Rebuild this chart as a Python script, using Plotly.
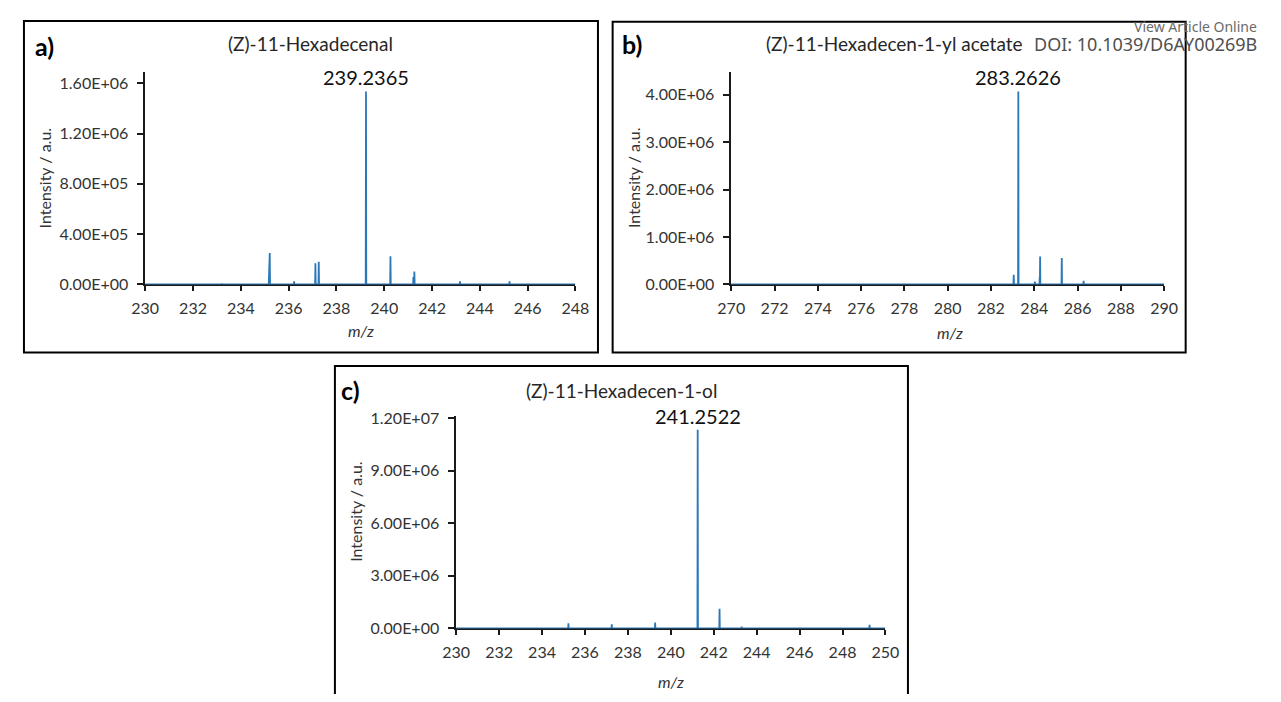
import plotly.graph_objects as go

# page body has an 8px margin; keep the figure inside the 1281x702 window
OFF = 8
W, H = 1281 - 2 * OFF, 702 - 2 * OFF

# ---------------- data ----------------
a_mz = [233.20, 235.18, 235.21, 236.23, 237.12, 237.26, 238.25, 239.2365, 240.26, 241.22, 241.26, 242.26, 243.17, 245.24]
a_int = [8e3, 1.35e5, 2.5e5, 2.6e4, 1.68e5, 1.80e5, 6e3, 1.535e6, 2.25e5, 6.0e4, 1.03e5, 5e3, 2.6e4, 2.5e4]

b_mz = [283.05, 283.2626, 284.03, 284.25, 284.27, 285.27, 286.28]
b_int = [2.05e5, 4.07e6, 6.0e4, 1.5e5, 5.9e5, 5.6e5, 8.0e4]

c_mz = [230.70, 233.27, 235.23, 236.20, 237.25, 239.27, 241.2522, 242.27, 243.30, 247.26, 249.26]
c_int = [3e4, 3e4, 2.9e5, 3e4, 2.4e5, 3.3e5, 1.134e7, 1.12e6, 1.0e5, 3e4, 2.0e5]

a_xticks = list(range(230, 249, 2))
b_xticks = list(range(270, 291, 2))
c_xticks = list(range(230, 251, 2))

a_yticks = [0, 4e5, 8e5, 1.2e6, 1.6e6]
b_yticks = [0, 1e6, 2e6, 3e6, 4e6]
c_yticks = [0, 3e6, 6e6, 9e6, 1.2e7]

a_ytext = ["0.00E+00", "4.00E+05", "8.00E+05", "1.20E+06", "1.60E+06"]
b_ytext = ["0.00E+00", "1.00E+06", "2.00E+06", "3.00E+06", "4.00E+06"]
c_ytext = ["0.00E+00", "3.00E+06", "6.00E+06", "9.00E+06", "1.20E+07"]

titles = ["(Z)-11-Hexadecenal", "(Z)-11-Hexadecen-1-yl acetate", "(Z)-11-Hexadecen-1-ol"]
panel_tags = ["a)", "b)", "c)"]
peak_labels = ["239.2365", "283.2626", "241.2522"]

# ---------------- helpers ----------------
def px_x(p):
    return (p - OFF) / W

def px_y(p):
    return 1 - (p - OFF) / H

def stick(mz, inten, lo, hi, d=0.012):
    xs, ys = [lo], [0]
    for m, v in sorted(zip(mz, inten)):
        xs += [m - d, m, m + d]
        ys += [0, v, 0]
    xs.append(hi)
    ys.append(0)
    return xs, ys

BLUE = "#2b78b9"
TXT = "#333333"
FONT = "Lato"

fig = go.Figure()

panels = [
    dict(mz=a_mz, it=a_int, xt=a_xticks, yt=a_yticks, ytt=a_ytext, xr=[230, 248], yr=[0, 1.693e6],
         dx=[134, 574], dy=[65, 283.3]),
    dict(mz=b_mz, it=b_int, xt=b_xticks, yt=b_yticks, ytt=b_ytext, xr=[270, 290], yr=[0, 4.49e6],
         dx=[733.3, 1176], dy=[65, 283.3]),
    dict(mz=c_mz, it=c_int, xt=c_xticks, yt=c_yticks, ytt=c_ytext, xr=[230, 250], yr=[0, 1.213e7],
         dx=[452, 891], dy=[418, 636]),
]

layout = dict(
    width=W, height=H, margin=dict(l=0, r=0, t=0, b=0),
    paper_bgcolor="white", plot_bgcolor="white", showlegend=False,
    font=dict(family=FONT, size=16, color=TXT),
)

annotations = []
for i, p in enumerate(panels):
    sfx = "" if i == 0 else str(i + 1)
    xs, ys = stick(p["mz"], p["it"], p["xr"][0], p["xr"][1])
    fig.add_trace(go.Scatter(x=xs, y=ys, mode="lines", line=dict(color=BLUE, width=1.8),
                             xaxis="x" + sfx, yaxis="y" + sfx, hoverinfo="skip"))
    layout["xaxis" + sfx] = dict(
        domain=[px_x(p["dx"][0]), px_x(p["dx"][1])], range=p["xr"], anchor="y" + sfx,
        tickvals=p["xt"], ticktext=[str(v) for v in p["xt"]],
        showline=True, linecolor="#1a1a1a", linewidth=1.5, ticks="outside", ticklen=5,
        tickwidth=1.5, tickcolor="#1a1a1a", showgrid=False, zeroline=False,
        tickfont=dict(family=FONT, size=16, color=TXT), layer="below traces",
        fixedrange=True, ticklabelstandoff=4,
    )
    layout["yaxis" + sfx] = dict(
        domain=[px_y(p["dy"][1]), px_y(p["dy"][0])], range=p["yr"], anchor="x" + sfx,
        tickvals=p["yt"], ticktext=p["ytt"],
        showline=True, linecolor="#1a1a1a", linewidth=1.5, ticks="outside", ticklen=6,
        tickwidth=1.5, tickcolor="#1a1a1a", showgrid=False, zeroline=False,
        tickfont=dict(family=FONT, size=16, color=TXT), layer="below traces",
        fixedrange=True, ticklabelstandoff=6,
    )
    k = p["it"].index(max(p["it"]))
    annotations.append(dict(x=p["mz"][k], y=p["it"][k], xref="x" + sfx, yref="y" + sfx,
                            text=peak_labels[i], showarrow=False, yanchor="bottom",
                            xanchor="center", yshift=0,
                            font=dict(family=FONT, size=20, color="#111111")))

title_pos = [(303, 36), (900, 36), (621, 392)]
tag_pos = [(31, 39), (632, 37), (344, 391)]
ytitle_pos = [(31, 174), (634, 174), (349, 516)]
xtitle_pos = [(355, 331), (957, 333), (672, 690)]
for i in range(3):
    annotations.append(dict(x=px_x(title_pos[i][0]), y=px_y(title_pos[i][1]), xref="paper", yref="paper",
                            text=titles[i], showarrow=False, xanchor="center", yanchor="middle",
                            font=dict(family=FONT, size=19, color="#262626")))
    annotations.append(dict(x=px_x(tag_pos[i][0]), y=px_y(tag_pos[i][1]), xref="paper", yref="paper",
                            text="<b>" + panel_tags[i] + "</b>", showarrow=False, xanchor="center",
                            yanchor="middle", font=dict(family=FONT, size=25, color="#000000")))
    annotations.append(dict(x=px_x(ytitle_pos[i][0]), y=px_y(ytitle_pos[i][1]), xref="paper", yref="paper",
                            text="Intensity / a.u.", showarrow=False, textangle=-90, xanchor="center",
                            yanchor="middle", font=dict(family=FONT, size=16, color=TXT)))
    annotations.append(dict(x=px_x(xtitle_pos[i][0]), y=px_y(xtitle_pos[i][1]), xref="paper", yref="paper",
                            text="<i>m/z</i>", showarrow=False, xanchor="center",
                            yanchor="middle", font=dict(family=FONT, size=16, color=TXT)))

annotations.append(dict(x=1, y=px_y(19), xref="paper", yref="paper", text="View Article Online",
                        showarrow=False, xanchor="right", yanchor="middle",
                        font=dict(family="Noto Sans", size=14, color="#6b6b6b")))
annotations.append(dict(x=1, y=px_y(37), xref="paper", yref="paper", text="DOI: 10.1039/D6AY00269B",
                        showarrow=False, xanchor="right", yanchor="middle",
                        font=dict(family="Noto Sans", size=18, color="#505050")))

boxes = [(10, 13, 597, 353), (612, 14, 1198, 353), (328, 367, 914, 712)]
shapes = []
for (x0, y0, x1, y1) in boxes:
    shapes.append(dict(type="rect", xref="paper", yref="paper",
                       x0=px_x(x0), x1=px_x(x1), y0=px_y(y1), y1=px_y(y0),
                       line=dict(color="#000000", width=2), fillcolor="rgba(0,0,0,0)", layer="below"))

layout["annotations"] = annotations
layout["shapes"] = shapes
fig.update_layout(**layout)

fig.write_html("out.html")
